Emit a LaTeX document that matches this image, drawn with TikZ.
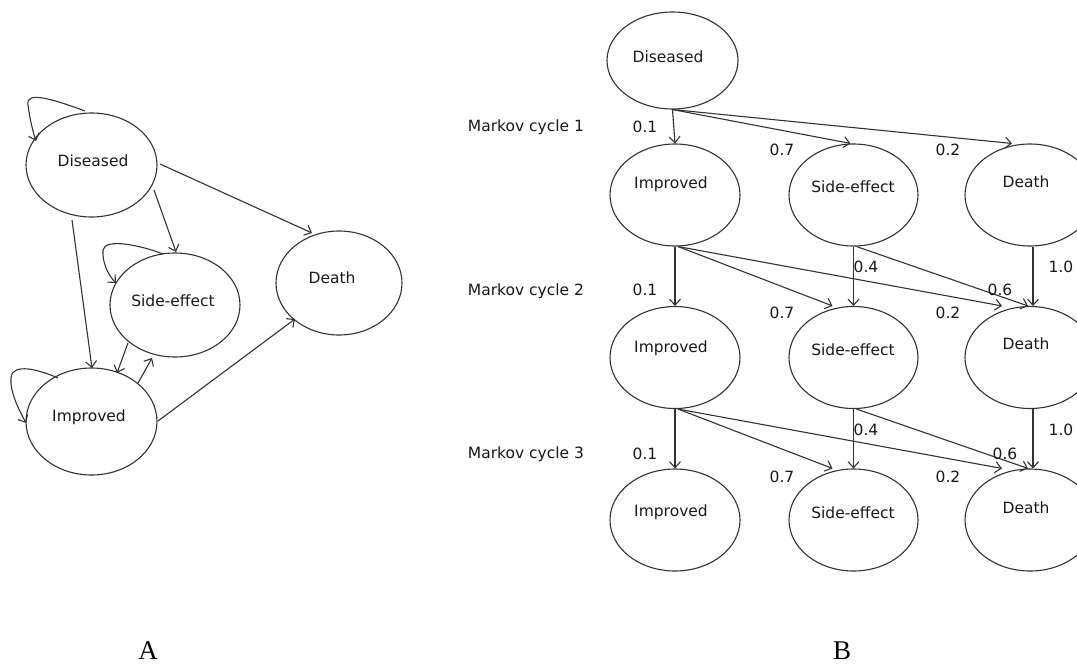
\documentclass[tikz,border=0pt]{standalone}
\usepackage{fontspec}
\setmainfont{DejaVu Sans}
\newfontfamily\serifA{Liberation Serif}
\usetikzlibrary{arrows.meta,calc,shapes.geometric}
\begin{document}
\begin{tikzpicture}[x=1pt,y=-1pt,
  st/.style={draw=black!80,line width=1.1pt,ellipse,inner sep=0pt,minimum width=130pt,minimum height=102pt},
  lbl/.style={font=\fontsize{15.5}{18}\selectfont,text=black!90,inner sep=0pt},
  tr/.style={draw=black!80,line width=1.1pt,-{Straight Barb[length=6pt,width=11pt]}},
  big/.style={font=\serifA\fontsize{27}{32}\selectfont,inner sep=0pt,anchor=base}]
\clip (0,0) rectangle (1077,664);
\fill[white] (0,0) rectangle (1077,664);
% ---------------- Part A ----------------
\node[st,minimum width=131pt,minimum height=104pt] (aD) at (91.5,165) {};
\node[st,minimum width=130pt,minimum height=104pt] (aS) at (175,305) {};
\node[st,minimum width=126pt,minimum height=104pt] (aX) at (339,283) {};
\node[st,minimum width=131pt,minimum height=107pt] (aI) at (91.5,421.5) {};
\node[lbl] (taD) at (93,161) {Diseased};
\node[lbl] (taS) at (173,301) {Side-effect};
\node[lbl] (taX) at (332,278) {Death};
\node[lbl] (taI) at (89,417) {Improved};
% self loops
\draw[tr] (85,111) .. controls (55,100) and (25,90) .. (28,105) .. controls (30,120) and (33,132) .. (36,141);
\draw[tr] (163,254) .. controls (140,245) and (105,238) .. (103,250) .. controls (102,262) and (108,275) .. (116,283);
\draw[tr] (58,378) .. controls (40,370) and (12,362) .. (11,378) .. controls (10,392) and (18,408) .. (26,423);
% transitions
\draw[tr] (160,164) -- (312,233);
\draw[tr] (154,190) -- (176,252);
\draw[tr] (72,220) -- (92,368);
\draw[tr] (128,343) -- (117,373);
\draw[tr] (138,383) -- (152,358);
\draw[tr] (158,421) -- (295,319);
\node[big] (labA) at (148,659) {A};
% ---------------- Part B ----------------
\node[st,minimum width=131pt,minimum height=97pt] (D0) at (672.5,60.5) {};
\node[lbl] at (668,57) {Diseased};
\foreach \r/\y/\ti/\ts/\td in {1/195/184/187/182, 2/357.5/348/350/344, 3/520/512/513/508}{
  \node[st] (I\r) at (675,\y) {};
  \node[st,minimum width=129pt] (S\r) at (853.5,\y) {};
  \node[st] (X\r) at (1030,\y) {};
  \node[lbl] at (671,\ti) {Improved};
  \node[lbl] at (853,\ts) {Side-effect};
  \node[lbl] at (1026,\td) {Death};
}
% cycle labels
\node[lbl] (m1) at (526,127) {Markov cycle 1};
\node[lbl] (m2) at (526,291) {Markov cycle 2};
\node[lbl] (m3) at (526,454) {Markov cycle 3};
% Diseased -> row 1
\draw[tr] (D0.south) -- (I1.north);
\draw[tr] (D0.south) -- ([xshift=-3pt]S1.north);
\draw[tr] (D0.south) -- ([xshift=-18pt]X1.north);
\node[lbl] at (645,127) {0.1};
\node[lbl] at (782,150) {0.7};
\node[lbl] at (948,150) {0.2};
% row 1 -> row 2 and row 2 -> row 3
\foreach \a/\b in {1/2, 2/3}{
  \draw[tr] (I\a.south) -- (I\b.north);
  \draw[tr] ([xshift=3pt]I\a.south) -- ([xshift=-21pt]S\b.north);
  \draw[tr] ([xshift=3pt]I\a.south) -- ([xshift=-28pt]X\b.north);
  \draw[tr] (S\a.south) -- (S\b.north);
  \draw[tr] ([xshift=3pt]S\a.south) -- ([xshift=-2pt]X\b.north);
  \draw[tr] ([xshift=3pt]X\a.south) -- ([xshift=3pt]X\b.north);
}
\node[lbl] at (645,290) {0.1};
\node[lbl] at (782,313) {0.7};
\node[lbl] at (948,313) {0.2};
\node[lbl] at (866,267) {0.4};
\node[lbl] at (1000,290) {0.6};
\node[lbl] at (1061,267) {1.0};
\node[lbl] at (645,454) {0.1};
\node[lbl] at (782,477) {0.7};
\node[lbl] at (948,477) {0.2};
\node[lbl] at (866,430) {0.4};
\node[lbl] at (1005,454) {0.6};
\node[lbl] at (1061,430) {1.0};
\node[big] (labB) at (842,659) {B};
\end{tikzpicture}
\end{document}
